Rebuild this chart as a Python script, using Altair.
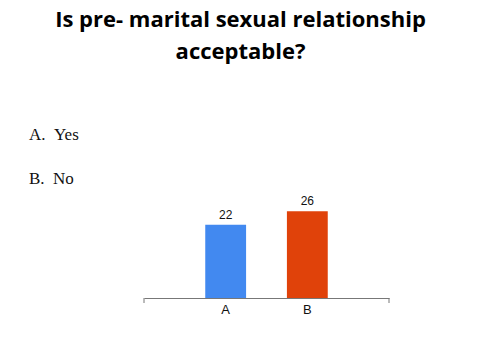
import altair as alt
import pandas as pd

categories = ["A", "B"]
values = [22, 26]
colors = ["#4289F0", "#E0420A"]
title_lines = ["Is pre- marital sexual relationship", "acceptable?"]
options = ["A.\u00a0\u00a0Yes", "B.\u00a0\u00a0No"]

df = pd.DataFrame({"cat": categories, "val": values, "color": colors})
opt_df = pd.DataFrame({"t": options, "i": [0, 1]})

W, H = 245, 100

x = alt.X("cat:N", scale=alt.Scale(domain=categories, paddingInner=0.5, paddingOuter=0.75),
          axis=alt.Axis(title=None, labelAngle=0, ticks=False, domain=True, domainColor="#777777",
                        labelColor="#111111", labelFont="Arial", labelFontSize=13, labelPadding=5))
y = alt.Y("val:Q", scale=alt.Scale(domain=[0, 30]), axis=None)

bars = alt.Chart(df).mark_bar().encode(x=x, y=y, color=alt.Color("color:N", scale=None))
labels = alt.Chart(df).mark_text(dy=-10, font="Arial", fontSize=12, color="#111111").encode(
    x=x, y=y, text="val:Q")

ends = alt.Chart(pd.DataFrame({"e": [0, W]})).mark_rule(color="#777777").encode(
    x=alt.X("e:Q", scale=None), y=alt.value(H), y2=alt.value(H + 5))

opts = alt.Chart(opt_df).mark_text(align="left", baseline="alphabetic", font="Liberation Serif",
                                   fontSize=17, color="#111111").encode(
    x=alt.value(-115),
    y=alt.Y("i:Q", scale=alt.Scale(domain=[0, 1], range=[-58, -14]), axis=None),
    text="t:N")

chart = alt.layer(bars, labels, ends, opts).resolve_scale(y="independent").properties(
    width=W, height=H,
    title=alt.TitleParams(title_lines, font="Open Sans", fontSize=22, fontWeight="bold",
                          color="#000000", anchor="middle", dx=-26, lineHeight=32,
                          offset=62),
    padding={"left": 136, "top": 190, "right": 83, "bottom": 54},
    autosize=alt.AutoSizeParams(type="none"),
).configure_view(stroke=None)

chart.save("out.html", embed_options={"renderer": "svg", "actions": False})
